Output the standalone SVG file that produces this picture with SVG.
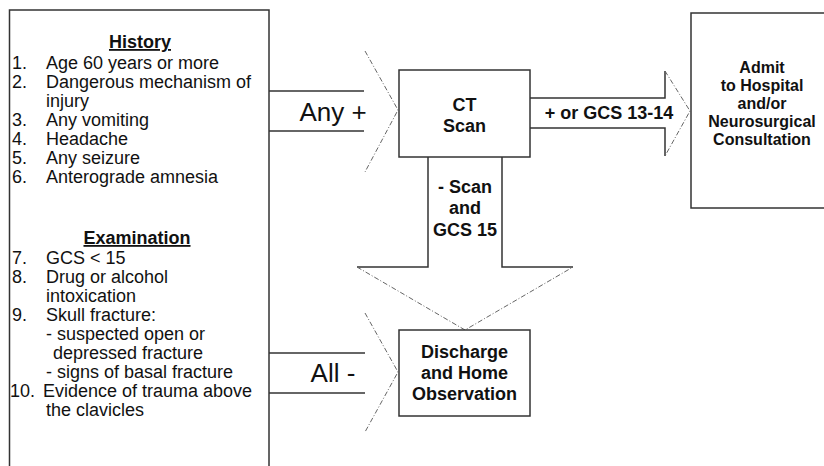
<svg xmlns="http://www.w3.org/2000/svg" width="824" height="466" viewBox="0 0 824 466">
<style>
.box{fill:#fff;stroke:#333;stroke-width:1.5}
.ln{fill:none;stroke:#333;stroke-width:1.5}
.dash{fill:none;stroke:#666;stroke-width:1;stroke-dasharray:5 2 1 2}
text{font-family:"Liberation Sans",Arial,sans-serif;fill:#111}
.t{font-size:18px}
.b{font-size:18px;font-weight:bold;text-anchor:middle}
.h{font-size:18px;font-weight:bold;text-anchor:middle;text-decoration:underline}
.big{font-size:26px;text-anchor:middle}
.adm{font-size:16px;font-weight:bold;text-anchor:middle}
</style>
<rect width="824" height="466" fill="#fff"/>
<g id="connectors">
  <line class="ln" x1="269" y1="91" x2="364" y2="91"/>
  <line class="ln" x1="269" y1="131" x2="364" y2="131"/>
  <polyline class="dash" points="365,51 398,110 365,172"/>
  <line class="ln" x1="269" y1="353" x2="365" y2="353"/>
  <line class="ln" x1="269" y1="393" x2="365" y2="393"/>
  <polyline class="dash" points="365,313 398,372 365,432"/>
  <polyline class="ln" points="530,98 665,98 665,71"/>
  <polyline class="ln" points="530,128 665,128 665,156"/>
  <polyline class="dash" points="665,71 690,111 665,156"/>
  <polyline class="ln" points="428,157 428,267 357,267"/>
  <polyline class="ln" points="502,157 502,267 573,267"/>
  <polyline class="dash" points="357,267 465,330 573,267"/>
  <text class="big" x="333" y="121">Any +</text>
  <text class="big" x="333" y="382">All -</text>
  <text class="b" x="609" y="119">+ or GCS 13-14</text>
  <text class="b" x="465" y="193">- Scan</text>
  <text class="b" x="465" y="214">and</text>
  <text class="b" x="465" y="236">GCS 15</text>
</g>
<g id="criteria">
  <rect class="box" x="9.5" y="10" width="259.5" height="480"/>
  <text class="h" x="140" y="48">History</text>
  <text class="t" x="12" y="69">1.</text><text class="t" x="46" y="69">Age 60 years or more</text>
  <text class="t" x="12" y="88">2.</text><text class="t" x="46" y="88">Dangerous mechanism of</text>
  <text class="t" x="46" y="107">injury</text>
  <text class="t" x="12" y="126">3.</text><text class="t" x="46" y="126">Any vomiting</text>
  <text class="t" x="12" y="145">4.</text><text class="t" x="46" y="145">Headache</text>
  <text class="t" x="12" y="164">5.</text><text class="t" x="46" y="164">Any seizure</text>
  <text class="t" x="12" y="183">6.</text><text class="t" x="46" y="183">Anterograde amnesia</text>
  <text class="h" x="137" y="244">Examination</text>
  <text class="t" x="12" y="264">7.</text><text class="t" x="46" y="264">GCS &lt; 15</text>
  <text class="t" x="12" y="283">8.</text><text class="t" x="46" y="283">Drug or alcohol</text>
  <text class="t" x="46" y="302">intoxication</text>
  <text class="t" x="12" y="321">9.</text><text class="t" x="46" y="321">Skull fracture:</text>
  <text class="t" x="46" y="340">- suspected open or</text>
  <text class="t" x="53" y="359">depressed fracture</text>
  <text class="t" x="46" y="378">- signs of basal fracture</text>
  <text class="t" x="10" y="397">10.</text><text class="t" x="43" y="397">Evidence of trauma above</text>
  <text class="t" x="46" y="416">the clavicles</text>
</g>
<g id="ct-scan">
  <rect class="box" x="399" y="70" width="131" height="87"/>
  <text class="b" x="464.5" y="111">CT</text>
  <text class="b" x="464.5" y="132">Scan</text>
</g>
<g id="admit">
  <rect class="box" x="691" y="13" width="200" height="195"/>
  <text class="adm" x="762" y="73">Admit</text>
  <text class="adm" x="762" y="91">to Hospital</text>
  <text class="adm" x="762" y="109">and/or</text>
  <text class="adm" x="762" y="127">Neurosurgical</text>
  <text class="adm" x="762" y="145">Consultation</text>
</g>
<g id="discharge">
  <rect class="box" x="399" y="330" width="131" height="86"/>
  <text class="b" x="464.5" y="358">Discharge</text>
  <text class="b" x="464.5" y="379">and Home</text>
  <text class="b" x="464.5" y="400">Observation</text>
</g>
</svg>
